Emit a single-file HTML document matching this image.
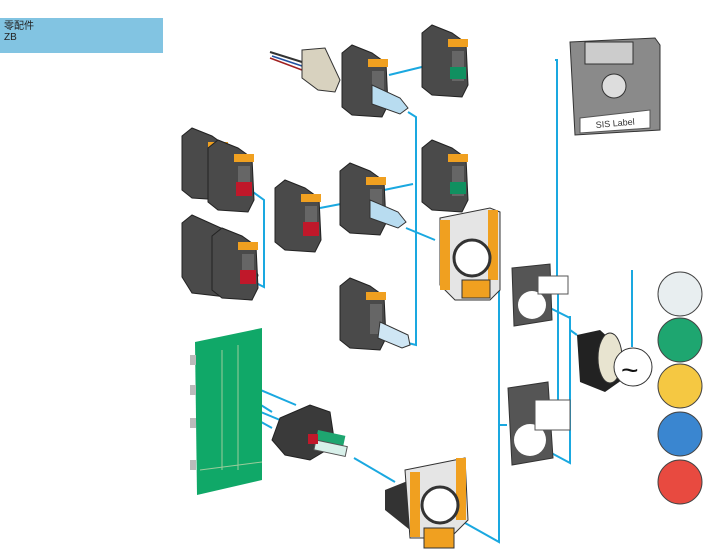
<!DOCTYPE html>
<html><head><meta charset="utf-8"><style>
body{margin:0;background:#fff;width:707px;height:560px;overflow:hidden;font-family:"Liberation Sans","Noto Sans CJK SC",sans-serif}
.lab{position:absolute;left:0;top:18px;width:163px;height:35px;background:#82c4e2;font-size:10px;line-height:11px;color:#222;padding:3px 4px;box-sizing:border-box}
svg{position:absolute;left:0;top:0}
</style></head><body>
<div class="lab">零配件<br>ZB</div>
<svg width="707" height="560" viewBox="0 0 707 560">
<defs>
<g id="blk"><path d="M0,8 L10,0 L30,8 L44,18 L46,60 L40,72 L10,70 L0,62Z" fill="#4a4a4a" stroke="#222"/><rect x="26" y="14" width="20" height="8" fill="#f0a020"/><rect x="30" y="26" width="12" height="30" fill="#666"/></g>
</defs>
<g stroke="#1aa8e0" stroke-width="2" fill="none">
<path d="M389,75 L430,65"/><path d="M408,112 L416,117 L416,345 L408,343"/>
<path d="M384,190 L413,184"/><path d="M320,208 L346,203"/>
<path d="M246,187 L264,200 L264,287 L250,280"/><path d="M406,228 L435,240"/>
<path d="M499,276 L499,542 L433,505"/><path d="M499,425 L507,425"/>
<path d="M555,60 L557,60 L557,292 L545,292"/><path d="M558,290 L558,400"/>
<path d="M570,316 L570,463 L527,440"/><path d="M530,298 L570,318 L570,330 L577,335"/>
<path d="M632,270 L632,347"/><path d="M225,375 L296,405"/><path d="M218,378 L272,412"/><path d="M220,395 L280,420"/><path d="M218,398 L272,428"/>
<path d="M354,458 L395,482"/><path d="M470,280 L485,283"/>
</g>
<!-- connector -->
<path d="M270,52 L302,62" stroke="#333" stroke-width="2"/><path d="M272,56 L302,66" stroke="#2050a0" stroke-width="1.5"/><path d="M270,58 L302,70" stroke="#a02020" stroke-width="1.5"/>
<path d="M302,50 L325,48 L340,80 L335,92 L318,90 L302,78Z" fill="#d8d2bf" stroke="#333"/>
<use href="#blk" transform="translate(342,45)"/>
<path d="M372,85 L400,98 L408,108 L400,114 L372,104Z" fill="#b8dcf0" stroke="#333"/>
<g transform="translate(422,25)"><use href="#blk"/><rect x="28" y="42" width="16" height="12" fill="#109060"/></g>
<g transform="translate(422,140)"><use href="#blk"/><rect x="28" y="42" width="16" height="12" fill="#109060"/></g>
<g transform="translate(182,128)"><use href="#blk"/></g>
<g transform="translate(208,140)"><use href="#blk"/><rect x="28" y="42" width="16" height="14" fill="#c0182a"/></g>
<g transform="translate(182,215)"><path d="M0,8 L10,0 L50,18 L56,20 L76,60 L70,85 L10,78 L0,62Z" fill="#4a4a4a" stroke="#222"/></g>
<g transform="translate(212,228)"><use href="#blk"/><rect x="28" y="42" width="16" height="14" fill="#c0182a"/></g>
<g transform="translate(275,180)"><use href="#blk"/><rect x="28" y="42" width="16" height="14" fill="#c0182a"/></g>
<use href="#blk" transform="translate(340,163)"/>
<path d="M370,200 L398,212 L406,222 L398,228 L370,218Z" fill="#b8dcf0" stroke="#333"/>
<use href="#blk" transform="translate(340,278)"/>
<path d="M380,322 L408,335 L410,345 L402,348 L378,338Z" fill="#cfe6f4" stroke="#333"/>
<!-- holders -->
<g><path d="M440,218 L490,208 L500,212 L500,290 L490,300 L455,300 L440,285Z" fill="#e5e5e5" stroke="#333"/><rect x="440" y="220" width="10" height="70" fill="#f0a020"/><rect x="488" y="210" width="10" height="70" fill="#f0a020"/><circle cx="472" cy="258" r="18" fill="#fff" stroke="#333" stroke-width="3"/><rect x="462" y="280" width="28" height="18" fill="#f0a020" stroke="#333"/></g>
<g><path d="M385,490 L410,480 L410,530 L385,510Z" fill="#333"/><path d="M405,470 L465,458 L468,520 L450,538 L410,538Z" fill="#e5e5e5" stroke="#333"/><rect x="410" y="472" width="10" height="65" fill="#f0a020"/><rect x="456" y="458" width="10" height="62" fill="#f0a020"/><circle cx="440" cy="505" r="18" fill="#fff" stroke="#333" stroke-width="3"/><rect x="424" y="528" width="30" height="20" fill="#f0a020" stroke="#333"/></g>
<!-- floppy -->
<path d="M570,42 L655,38 L660,45 L660,130 L575,135Z" fill="#8a8a8a" stroke="#333"/><rect x="585" y="42" width="48" height="22" fill="#ccc" stroke="#333"/>
<circle cx="614" cy="86" r="12" fill="#ddd" stroke="#333"/>
<path d="M580,118 L650,110 L650,128 L580,133Z" fill="#fff" stroke="#555"/>
<text x="596" y="128" font-size="9" fill="#333" transform="rotate(-5 596 128)">SIS Label</text>
<!-- plates -->
<path d="M512,268 L550,264 L552,320 L514,326Z" fill="#555" stroke="#333"/><circle cx="532" cy="305" r="14" fill="#fff"/><rect x="538" y="276" width="30" height="18" fill="#fff" stroke="#555"/>
<path d="M508,388 L548,382 L553,458 L512,465Z" fill="#555" stroke="#333"/><circle cx="530" cy="440" r="16" fill="#fff"/><rect x="535" y="400" width="35" height="30" fill="#fff" stroke="#555"/>
<!-- button -->
<path d="M577,335 L600,330 L620,348 L622,380 L605,392 L580,382Z" fill="#222"/><ellipse cx="610" cy="358" rx="12" ry="25" fill="#e8e4d0" stroke="#333"/>
<circle cx="633" cy="367" r="19" fill="#fff" stroke="#333"/><text x="621" y="380" font-size="30" fill="#111">~</text>
<!-- caps -->
<g stroke="#444"><circle cx="680" cy="294" r="22" fill="#e8eef0"/><circle cx="680" cy="340" r="22" fill="#1ea670"/><circle cx="680" cy="386" r="22" fill="#f5c842"/><circle cx="680" cy="434" r="22" fill="#3a86d0"/><circle cx="680" cy="482" r="22" fill="#e84a40"/></g>
<!-- pcb -->
<path d="M195,342 L262,328 L262,480 L197,495Z" fill="#10a868"/>
<g fill="#bbb"><rect x="190" y="355" width="6" height="10"/><rect x="190" y="385" width="6" height="10"/><rect x="190" y="418" width="6" height="10"/><rect x="190" y="460" width="6" height="10"/></g>
<path d="M222,350 L222,470 M238,345 L238,470 M200,470 L262,462" stroke="#9bcc9b" fill="none"/>
<!-- switch -->
<path d="M280,418 L310,405 L330,412 L335,445 L310,460 L285,455 L272,440Z" fill="#3a3a3a" stroke="#222"/>
<rect x="318" y="430" width="28" height="10" fill="#1ea670" transform="rotate(12 318 430)"/><rect x="316" y="440" width="32" height="10" fill="#d8f0ea" stroke="#555" transform="rotate(12 316 440)"/><rect x="308" y="434" width="10" height="10" fill="#c0182a"/>
</svg>
</body></html>
